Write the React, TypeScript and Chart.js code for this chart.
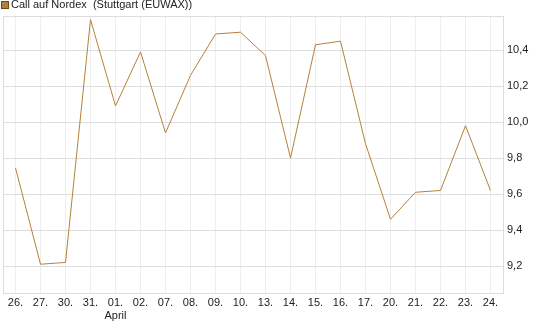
import React, { useEffect, useRef } from "react";
import { Chart, registerables } from "chart.js";

Chart.register(...registerables);

const categories = ["26.", "27.", "30.", "31.", "01.", "02.", "07.", "08.", "09.", "10.", "13.", "14.", "15.", "16.", "17.", "20.", "21.", "22.", "23.", "24."];
const monthLabels = ["", "", "", "", "April", "", "", "", "", "", "", "", "", "", "", "", "", "", "", ""];
const values = [9.745, 9.21, 9.22, 10.57, 10.09, 10.39, 9.94, 10.26, 10.49, 10.5, 10.37, 9.8, 10.43, 10.45, 9.88, 9.46, 9.61, 9.62, 9.98, 9.62];
const yTicks = [9.2, 9.4, 9.6, 9.8, 10.0, 10.2, 10.4];
const seriesName = "Call auf Nordex  (Stuttgart (EUWAX))";

const LINE = "#B5803A";
const FONT = "'Liberation Sans', Arial, sans-serif";

export default function App() {
  const ref = useRef<HTMLCanvasElement | null>(null);

  useEffect(() => {
    if (!ref.current) return;
    const borderPlugin = {
      id: "plotBorder",
      afterDraw(chart: any) {
        const { ctx, chartArea } = chart;
        ctx.save();
        ctx.strokeStyle = "#dddddd";
        ctx.lineWidth = 1;
        ctx.strokeRect(
          Math.round(chartArea.left) + 0.5,
          Math.round(chartArea.top) + 0.5,
          Math.round(chartArea.right - chartArea.left),
          Math.round(chartArea.bottom - chartArea.top)
        );
        ctx.restore();
      },
    };
    const chart = new Chart(ref.current, {
      type: "line",
      data: {
        labels: categories.map((c, i) => (monthLabels[i] ? [c, monthLabels[i]] : c)),
        datasets: [
          {
            label: seriesName,
            data: values,
            borderColor: LINE,
            backgroundColor: LINE,
            borderWidth: 1,
            pointRadius: 0,
            tension: 0,
            fill: false,
          },
        ],
      },
      options: {
        animation: false,
        responsive: false,
        maintainAspectRatio: false,
        layout: { padding: { left: 3, top: 16, right: 0, bottom: 0 } },
        plugins: { legend: { display: false }, tooltip: { enabled: false } },
        scales: {
          x: {
            type: "category",
            offset: true,
            grid: { offset: false, color: "#eeeeee", drawTicks: false },
            border: { display: false },
            ticks: {
              color: "#222",
              font: { family: FONT, size: 11 },
              padding: 3,
              maxRotation: 0,
              autoSkip: false,
            },
            afterFit(scale: any) {
              scale.height = 34;
            },
          },
          y: {
            position: "right",
            min: 9.05,
            max: 10.59,
            grid: { color: "#dddddd", drawTicks: false },
            border: { display: false },
            ticks: {
              color: "#222",
              font: { family: FONT, size: 11 },
              padding: 4,
              callback: (v: any) => Number(v).toFixed(1).replace(".", ","),
            },
            afterBuildTicks(scale: any) {
              scale.ticks = yTicks.map((v) => ({ value: v }));
            },
            afterFit(scale: any) {
              scale.width = 42;
            },
          },
        },
      },
      plugins: [borderPlugin],
    });
    return () => chart.destroy();
  }, []);

  return (
    <div style={{ position: "absolute", left: 0, top: 0, width: 545, height: 327, background: "#fff" }}>
      <canvas ref={ref} width={545} height={327} style={{ position: "absolute", left: 0, top: 0 }} />
      <div
        style={{
          position: "absolute",
          left: 1,
          top: 1,
          width: 6,
          height: 6,
          background: LINE,
          border: "1px solid #6b4a1e",
        }}
      />
      <div
        style={{
          position: "absolute",
          left: 11,
          top: -2,
          fontFamily: FONT,
          fontSize: 11,
          color: "#222",
          whiteSpace: "pre",
          lineHeight: "13px",
        }}
      >
        {seriesName}
      </div>
    </div>
  );
}
